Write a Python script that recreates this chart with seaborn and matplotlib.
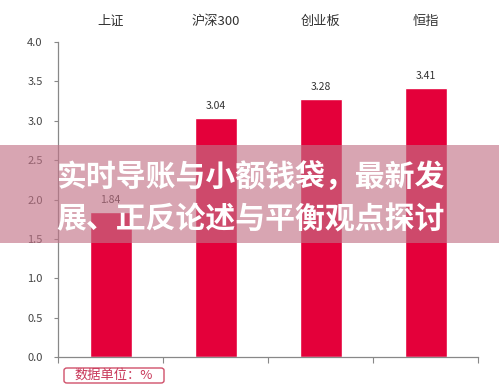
import numpy as np
import pandas as pd
import matplotlib
matplotlib.use('Agg')
import matplotlib.pyplot as plt
import matplotlib.patches as mpatches
import seaborn as sns

categories = ['上证', '沪深300', '创业板', '恒指']
values = [1.84, 3.04, 3.28, 3.41]
y_ticks = [0.0, 0.5, 1.0, 1.5, 2.0, 2.5, 3.0, 3.5, 4.0]
banner_lines = ['实时导账与小额钱袋，最新发', '展、正反论述与平衡观点探讨']
unit_note = '数据单位：%'

sns.set_style('white')
plt.rcParams['font.family'] = ['Noto Sans CJK SC', 'DejaVu Sans']

W, H = 499, 388
fig = plt.figure(figsize=(W / 100, H / 100), dpi=100)
ax = fig.add_axes([58 / W, (H - 357) / H, (478 - 58) / W, (357 - 42) / H])

df = pd.DataFrame({'cat': categories, 'val': values})
sns.barplot(data=df, x='cat', y='val', color='#E4003A', width=0.4,
            saturation=1, ax=ax)

for i, v in enumerate(values):
    ax.text(i, v + 0.09, f'{v:.2f}', ha='center', va='bottom',
            fontsize=7.5, color='#333333')

ax.set_ylim(0, 4)
ax.set_xlim(-0.5, 3.5)
ax.set_yticks(y_ticks)
ax.set_yticklabels([f'{t:.1f}' for t in y_ticks], fontsize=8, color='#444444')
ax.set_xlabel('')
ax.set_ylabel('')

ax.set_xticks(range(len(categories)))
ax.set_xticklabels(categories, fontsize=9.5, color='#333333')
ax.tick_params(axis='x', which='major', top=False, labeltop=True,
               bottom=False, labelbottom=False, length=0, pad=10)
ax.set_xticks(np.arange(-0.5, 4, 1), minor=True)
ax.tick_params(axis='x', which='minor', bottom=True, length=4,
               color='#888888', width=0.8)
ax.tick_params(axis='y', left=True, length=3, color='#888888', width=0.8, pad=8)

for s in ['top', 'right']:
    ax.spines[s].set_visible(False)
for s in ['left', 'bottom']:
    ax.spines[s].set_color('#888888')
    ax.spines[s].set_linewidth(0.9)

# translucent banner over the chart
fig.patches.append(mpatches.Rectangle((0, (H - 243) / H), 1, 98 / H,
                                      transform=fig.transFigure,
                                      facecolor=(194 / 255, 115 / 255, 135 / 255),
                                      alpha=0.64, edgecolor='none', zorder=5))
fig.text(251 / W, (H - 177) / H, banner_lines[0], ha='center', va='center',
         fontsize=21.5, fontweight='bold', color='white', zorder=6)
fig.text(251 / W, (H - 220) / H, banner_lines[1], ha='center', va='center',
         fontsize=21.5, fontweight='bold', color='white', zorder=6)

# unit note box
fig.patches.append(mpatches.FancyBboxPatch((64 / W, (H - 383) / H), 100 / W, 15 / H,
                                           boxstyle='round,pad=0,rounding_size=0.006',
                                           transform=fig.transFigure,
                                           facecolor='white', edgecolor='#D0506A',
                                           linewidth=1))
fig.text(114 / W, (H - 375) / H, unit_note, ha='center', va='center',
         fontsize=9.5, color='#C8385A')

fig.savefig('out.png', dpi=100)
